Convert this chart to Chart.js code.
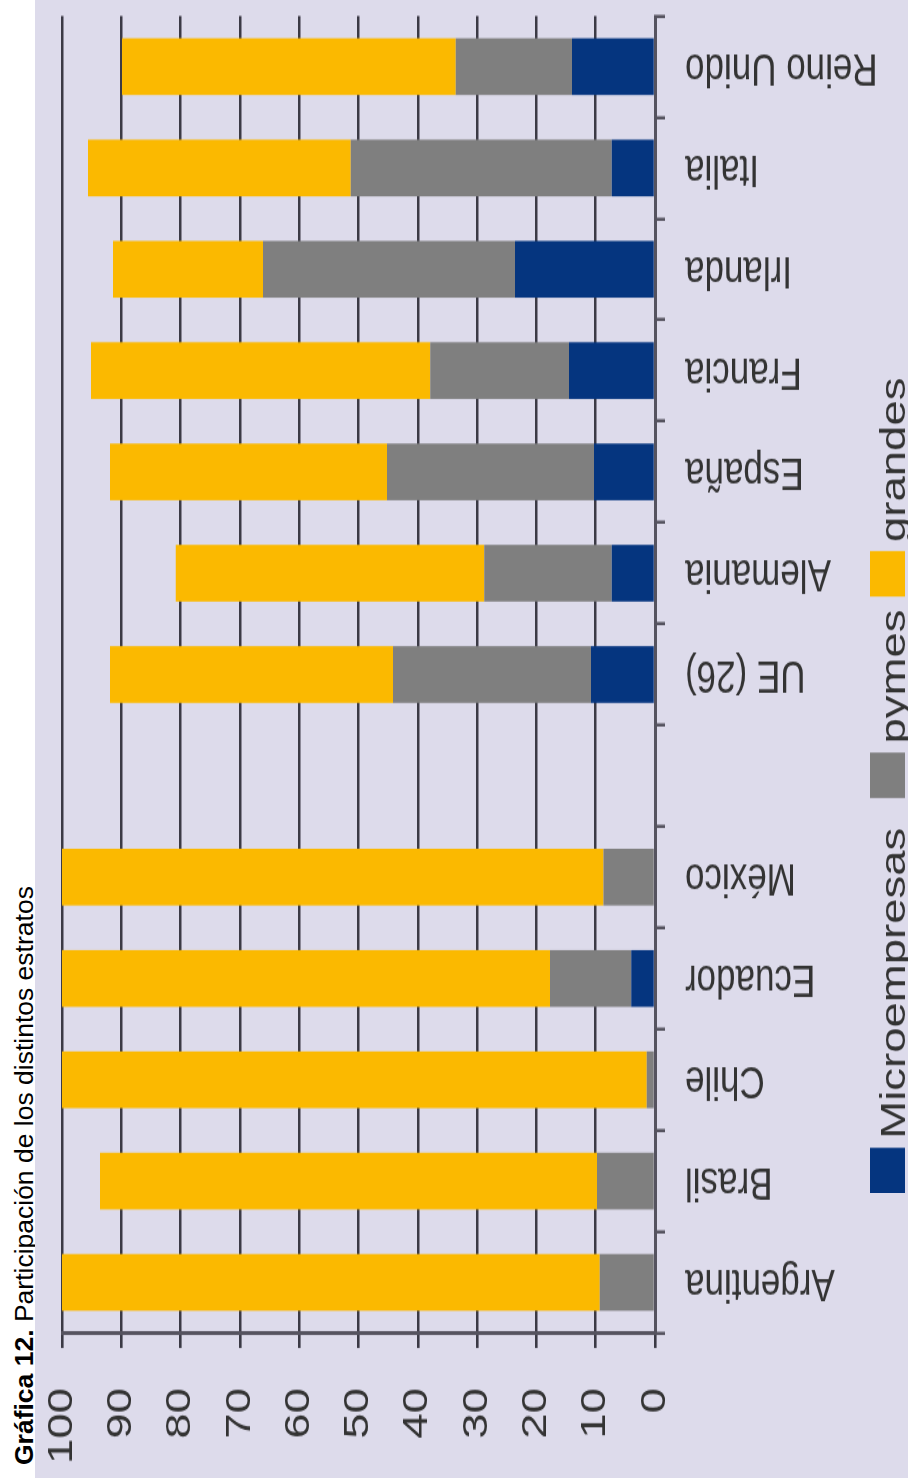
<!DOCTYPE html>
<html>
<head>
<meta charset="utf-8">
<title>Gráfica 12</title>
<script src="https://cdn.jsdelivr.net/npm/chart.js@4.4.0/dist/chart.umd.min.js"></script>
<style>
  html, body { margin: 0; padding: 0; background: #fff; overflow: hidden; }
  body { width: 908px; height: 1478px; position: relative; }
  /* the chart is laid out upright, then turned a quarter turn to the left */
  #page { position: absolute; left: 0; top: 0; width: 1478px; height: 908px; background: #fff;
          transform-origin: 0 0; transform: translate(0, 1478px) rotate(-90deg); }
  #title { position: absolute; left: 13px; top: 10.6px; white-space: nowrap; color: #000;
           font: 26.5px/26.5px 'Liberation Sans', Arial, sans-serif; }
  #plot { position: absolute; left: 0; top: 35px; width: 1137px; height: 873px; background: #dddbeb;
          transform-origin: 0 0; transform: scaleX(1.3); }
  #chart { position: absolute; left: 0; top: 0; }
  .leg-box { position: absolute; top: 835px; width: 35px; height: 35px; }
  .leg-text { position: absolute; top: 840.4px; white-space: nowrap; color: #333;
              font: 35px/35px 'Liberation Sans', Arial, sans-serif; }
</style>
</head>
<body>
<div id="page">
  <div id="title"><b>Gráfica 12.</b> Participación de los distintos estratos</div>
  <div id="plot">
    <canvas id="chart" width="1137" height="873"></canvas>
    <div id="legend"></div>
  </div>
</div>
<script>
'use strict';

const categories = ['Argentina', 'Brasil', 'Chile', 'Ecuador', 'México', '',
  'UE (26)', 'Alemania', 'España', 'Francia', 'Irlanda', 'Italia', 'Reino Unido'];
const microValues = [0, 0, 0, 4.0, 0, null, 10.8, 7.3, 10.3, 14.5, 23.6, 7.3, 14.0];
const pymesValues = [9.3, 9.8, 1.4, 13.7, 8.7, null, 33.4, 21.5, 34.9, 23.4, 42.5, 44.0, 19.6];
const grandesValues = [90.7, 83.8, 98.6, 82.3, 91.3, null, 47.7, 52.0, 46.7, 57.2, 25.3, 44.3, 56.3];
const valueTicks = [0, 10, 20, 30, 40, 50, 60, 70, 80, 90, 100];
const seriesNames = ['Microempresas', 'pymes', 'grandes'];
const seriesColors = ['#05357f', '#7f7f7f', '#fbb900'];

const tickFont = { family: "'Liberation Sans', Arial, sans-serif", size: 35 };
const axisColor = '#55535f';

document.addEventListener('DOMContentLoaded', () => {
  drawChart();
  drawLegend();
});

// keep the chart area where the layout padding puts it
function noScalePadding(scale) {
  scale.paddingTop = 0;
  scale.paddingBottom = 0;
  scale.paddingLeft = 0;
  scale.paddingRight = 0;
}

function drawChart() {
  const seriesValues = [microValues, pymesValues, grandesValues];
  const datasets = seriesNames.map((name, i) => ({
    label: name,
    data: seriesValues[i],
    backgroundColor: seriesColors[i],
    borderWidth: 0,
    categoryPercentage: 1,
    barPercentage: 0.56
  }));

  new Chart(document.getElementById('chart'), {
    type: 'bar',
    data: { labels: categories, datasets: datasets },
    options: {
      responsive: false,
      animation: false,
      devicePixelRatio: 1,
      layout: { padding: { top: 27, right: 12.4, left: 0, bottom: 0 } },
      plugins: {
        legend: { display: false },
        tooltip: { enabled: false }
      },
      scales: {
        x: {
          stacked: true,
          offset: true,
          grid: { drawOnChartArea: false, drawTicks: true, tickLength: 10, color: axisColor, lineWidth: 2.5 },
          border: { display: true, color: axisColor, width: 3 },
          ticks: { autoSkip: false, minRotation: 90, maxRotation: 90, padding: 20, color: '#333', font: tickFont },
          afterFit: scale => { scale.height = 253; noScalePadding(scale); }
        },
        y: {
          stacked: true,
          min: 0,
          max: 100,
          grid: { color: 'rgba(30,29,40,0.85)', lineWidth: 2.6, tickLength: 11.5 },
          border: { display: true, color: axisColor, width: 3 },
          ticks: { padding: 30.8, color: '#333', font: tickFont },
          afterBuildTicks: scale => { scale.ticks = valueTicks.map(v => ({ value: v })); },
          afterFit: scale => { scale.width = 111.5; noScalePadding(scale); }
        }
      }
    }
  });
}

function drawLegend() {
  const boxLeft = [219, 523, 678];
  const legend = document.getElementById('legend');
  seriesNames.forEach((name, i) => {
    const box = document.createElement('div');
    box.className = 'leg-box';
    box.style.left = boxLeft[i] + 'px';
    box.style.background = seriesColors[i];
    legend.appendChild(box);
    const txt = document.createElement('span');
    txt.className = 'leg-text';
    txt.style.left = (boxLeft[i] + 42) + 'px';
    txt.textContent = name;
    legend.appendChild(txt);
  });
}
</script>
</body>
</html>
